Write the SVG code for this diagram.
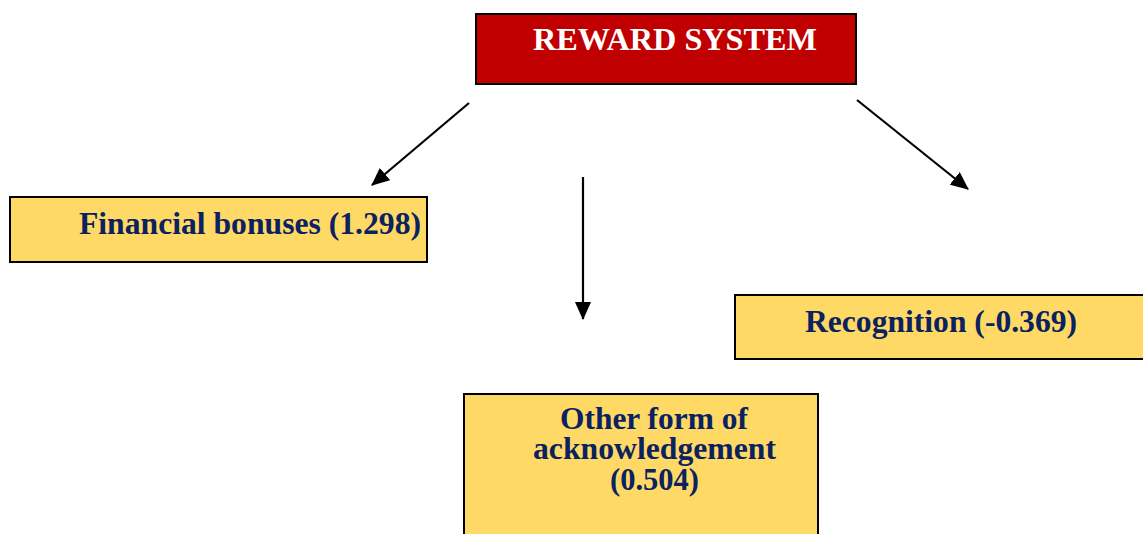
<svg xmlns="http://www.w3.org/2000/svg" width="1143" height="534" viewBox="0 0 1143 534">
<style>
.box{fill:#FFD966;stroke:#000;stroke-width:2}
.lbl{font-family:"Liberation Serif","Times New Roman",serif;font-weight:bold;font-size:32px;fill:#0B2260}
.conn line{stroke:#000;stroke-width:2.2}
</style>
<defs>
<marker id="ah" markerUnits="userSpaceOnUse" markerWidth="18" markerHeight="16" viewBox="0 0 18 16" refX="17" refY="8" orient="auto">
<path d="M0,0 L18,8 L0,16 Z" fill="#000"/>
</marker>
</defs>
<rect width="1143" height="534" fill="#fff"/>
<g id="reward">
<rect x="476" y="14" width="380" height="70" fill="#C00000" stroke="#000" stroke-width="2"/>
<text x="533" y="50" class="lbl" style="fill:#fff" textLength="284" lengthAdjust="spacingAndGlyphs">REWARD SYSTEM</text>
</g>
<g id="financial">
<rect class="box" x="10" y="197" width="417" height="65"/>
<text x="79" y="234" class="lbl" textLength="342" lengthAdjust="spacingAndGlyphs">Financial bonuses (1.298)</text>
</g>
<g id="recognition">
<rect class="box" x="735" y="295" width="420" height="64"/>
<text x="805" y="332" class="lbl" textLength="272" lengthAdjust="spacingAndGlyphs">Recognition (-0.369)</text>
</g>
<g id="other">
<rect class="box" x="464" y="394" width="354" height="150"/>
<text x="560" y="429" class="lbl" textLength="188" lengthAdjust="spacingAndGlyphs">Other form of</text>
<text x="533" y="459" class="lbl" textLength="243" lengthAdjust="spacingAndGlyphs">acknowledgement</text>
<text x="610" y="490" class="lbl" textLength="89" lengthAdjust="spacingAndGlyphs">(0.504)</text>
</g>
<g class="conn" id="connectors">
<line x1="469" y1="103" x2="372" y2="185" marker-end="url(#ah)"/>
<line x1="583" y1="177" x2="583" y2="319" marker-end="url(#ah)"/>
<line x1="857" y1="100" x2="968" y2="189" marker-end="url(#ah)"/>
</g>
</svg>
